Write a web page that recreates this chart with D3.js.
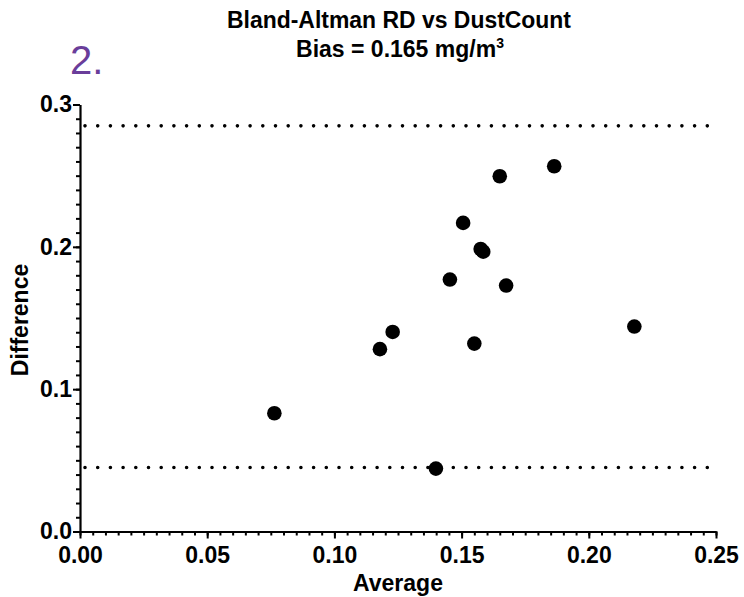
<!DOCTYPE html>
<html>
<head>
<meta charset="utf-8">
<script src="https://cdn.jsdelivr.net/npm/d3@7"></script>
<style>
  html, body { margin: 0; padding: 0; background: #fff; }
  svg { display: block; }
  text { font-family: "Liberation Sans", Arial, sans-serif; font-weight: bold; fill: #000; }
</style>
</head>
<body>
<svg id="chart" width="744" height="597"></svg>
<script>
// Bland-Altman data: average vs difference
const averages    = [0.0764, 0.1179, 0.1229, 0.1454, 0.1506, 0.1550, 0.1575, 0.1585, 0.1650, 0.1675, 0.1864, 0.2179, 0.1399];
const differences = [0.0831, 0.1281, 0.1402, 0.1770, 0.2168, 0.1320, 0.1985, 0.1966, 0.2496, 0.1728, 0.2566, 0.1440, 0.0442];
const limits = [0.285, 0.045]; // upper / lower limits of agreement
const xTicks = [0, 0.05, 0.10, 0.15, 0.20, 0.25];
const yTicks = [0, 0.1, 0.2, 0.3];

const svg = d3.select("#chart");
const margin = { left: 80, right: 28, top: 104.5, bottom: 65.5 };
const W = 744, H = 597;

const x = d3.scaleLinear().domain([0, 0.25]).range([margin.left, W - margin.right]);
const y = d3.scaleLinear().domain([0, 0.3]).range([H - margin.bottom, margin.top]);

// titles
svg.append("text")
    .attr("x", 399).attr("y", 28)
    .attr("text-anchor", "middle")
    .attr("font-size", 23)
    .attr("textLength", 344)
    .attr("lengthAdjust", "spacingAndGlyphs")
    .text("Bland-Altman RD vs DustCount");

const sub = svg.append("text")
    .attr("x", 400).attr("y", 57)
    .attr("text-anchor", "middle")
    .attr("font-size", 23);
sub.append("tspan").text("Bias = 0.165 mg/m");
sub.append("tspan").attr("dy", -9).attr("font-size", 14).text("3");

svg.append("text")
    .attr("x", 70).attr("y", 74)
    .attr("font-family", "'Open Sans', 'Noto Sans', sans-serif")
    .style("font-weight", "normal")
    .style("fill", "#6a3d9a")
    .attr("font-size", 40)
    .text("2.");

// limits of agreement (dotted)
svg.selectAll(".loa")
    .data(limits)
    .enter().append("line")
    .attr("class", "loa")
    .attr("x1", x(0) + 5).attr("x2", x(0.25))
    .attr("y1", d => y(d)).attr("y2", d => y(d))
    .attr("stroke", "#000")
    .attr("stroke-width", 3.6)
    .attr("stroke-linecap", "round")
    .attr("stroke-dasharray", "0 12.7");

// axes
const xAxis = svg.append("g").attr("transform", `translate(0,${y(0)})`);
xAxis.call(d3.axisBottom(x).tickValues(d3.range(0, 0.2501, 0.005)).tickFormat("").tickSize(4).tickSizeOuter(0));
xAxis.call(g => g.selectAll(".tick line").attr("stroke-width", 2));
const xMajor = svg.append("g").attr("transform", `translate(0,${y(0)})`);
xMajor.call(d3.axisBottom(x).tickValues(xTicks).tickFormat(d3.format(".2f")).tickSize(7).tickPadding(8).tickSizeOuter(0));
xMajor.select(".domain").remove();
xMajor.selectAll(".tick line").attr("stroke-width", 2);
xMajor.selectAll("text").attr("font-size", 23).attr("font-family", null).style("fill", "#000");
xAxis.select(".domain").attr("stroke-width", 2.2);

const yAxis = svg.append("g").attr("transform", `translate(${x(0)},0)`);
yAxis.call(d3.axisLeft(y).tickValues(d3.range(0, 0.3001, 0.01)).tickFormat("").tickSize(4).tickSizeOuter(0));
yAxis.selectAll(".tick line").attr("stroke-width", 2);
const yMajor = svg.append("g").attr("transform", `translate(${x(0)},0)`);
yMajor.call(d3.axisLeft(y).tickValues(yTicks).tickFormat(d3.format(".1f")).tickSize(7).tickPadding(1).tickSizeOuter(0));
yMajor.select(".domain").remove();
yMajor.selectAll(".tick line").attr("stroke-width", 2);
yMajor.selectAll("text").attr("font-size", 23).attr("font-family", null).style("fill", "#000");
yAxis.select(".domain").attr("stroke-width", 2.2);

// axis labels
svg.append("text")
    .attr("x", 398).attr("y", 591)
    .attr("text-anchor", "middle")
    .attr("font-size", 23)
    .text("Average");

svg.append("text")
    .attr("transform", "translate(28,320) rotate(-90)")
    .attr("text-anchor", "middle")
    .attr("font-size", 23)
    .text("Difference");

// points
svg.selectAll(".pt")
    .data(averages.map((a, i) => ({ a, d: differences[i] })))
    .enter().append("circle")
    .attr("class", "pt")
    .attr("cx", p => x(p.a))
    .attr("cy", p => y(p.d))
    .attr("r", 7.3)
    .attr("fill", "#000");
</script>
</body>
</html>
